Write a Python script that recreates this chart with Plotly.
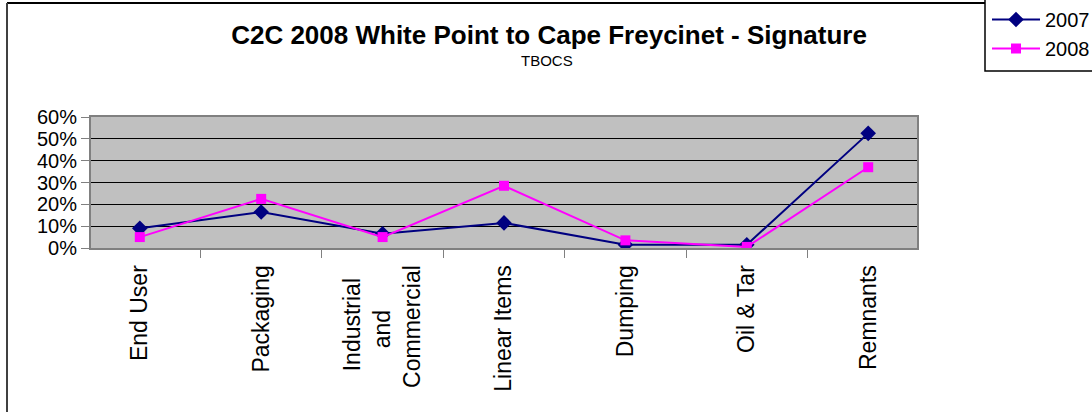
import plotly.graph_objects as go

NB = "\u00a0"
categories = ["End User", "Packaging", "Industrial" + NB * 2 + "<br>and" + NB * 7 + "<br>Commercial",
              "Linear Items", "Dumping", "Oil & Tar", "Remnants"]
values_2007 = [0.09, 0.165, 0.065, 0.115, 0.015, 0.015, 0.525]
values_2008 = [0.05, 0.225, 0.05, 0.285, 0.035, 0.005, 0.37]
series_names = ["2007", "2008"]
y_ticks = [0, 0.1, 0.2, 0.3, 0.4, 0.5, 0.6]

W, H = 1092, 412
L, R, T, B = 91, 917, 117, 248  # plot area in px


def px(x):
    return (x - L) / (R - L)


def py(y):
    return (B - y) / (B - T)


FONT = "Liberation Sans, Arial, sans-serif"

fig = go.Figure()
fig.add_trace(go.Scatter(
    x=categories, y=values_2007, name=series_names[0], mode="lines+markers",
    line=dict(color="#000080", width=2),
    marker=dict(symbol="diamond", size=12, color="#000080"),
))
fig.add_trace(go.Scatter(
    x=categories, y=values_2008, name=series_names[1], mode="lines+markers",
    line=dict(color="#FF00FF", width=2),
    marker=dict(symbol="square", size=10, color="#FF00FF"),
))

fig.update_layout(
    width=W, height=H,
    margin=dict(l=L, r=W - R, t=T, b=H - B, autoexpand=False),
    paper_bgcolor="white",
    plot_bgcolor="#C0C0C0",
    font=dict(family=FONT, color="black", size=20),
    title=dict(
        text="<b>C2C 2008 White Point to Cape Freycinet - Signature</b>",
        xref="container", yref="container", x=549 / W, y=1 - 35 / H,
        xanchor="center", yanchor="middle",
        font=dict(family=FONT, size=26, color="black"),
    ),
    showlegend=True,
    legend=dict(
        xref="container", yref="container",
        x=987 / W, y=1.0, xanchor="left", yanchor="top",
        bgcolor="rgba(0,0,0,0)", borderwidth=0,
        font=dict(family=FONT, size=20, color="black"),
        tracegroupgap=0, itemwidth=48,
    ),
    xaxis=dict(
        type="category", tickson="boundaries", ticks="outside", ticklen=8,
        tickcolor="#808080", tickwidth=1, tickangle=-90, ticklabelstandoff=6,
        showline=True, linecolor="#808080", linewidth=2, mirror=True,
        showgrid=False, zeroline=False,
        tickfont=dict(family=FONT, size=23, color="black"),
    ),
    yaxis=dict(
        range=[0, 0.6], tickvals=y_ticks, tickformat=".0%",
        ticks="outside", ticklen=8, tickcolor="#808080",
        showline=True, linecolor="#808080", linewidth=2, mirror=True,
        showgrid=True, gridcolor="black", gridwidth=1, zeroline=False,
        tickfont=dict(family=FONT, size=20, color="black"),
    ),
)

fig.add_annotation(
    text="TBOCS", xref="paper", yref="paper", x=px(547), y=py(61),
    xanchor="center", yanchor="middle", showarrow=False,
    font=dict(family=FONT, size=15, color="black"),
)

# outer chart frame (top and left edges visible)
fig.add_shape(type="line", xref="paper", yref="paper",
              x0=px(7), x1=px(985), y0=py(3), y1=py(3),
              line=dict(color="black", width=2))
fig.add_shape(type="line", xref="paper", yref="paper",
              x0=px(7), x1=px(7), y0=py(3), y1=py(412),
              line=dict(color="#404040", width=2))
# legend box
fig.add_shape(type="rect", xref="paper", yref="paper", layer="below",
              x0=px(985), x1=px(1100), y0=py(-5), y1=py(71),
              line=dict(color="black", width=1.5), fillcolor="white")

fig.write_html("out.html", config={"displayModeBar": False},
               post_script="document.body.style.margin='0';")
